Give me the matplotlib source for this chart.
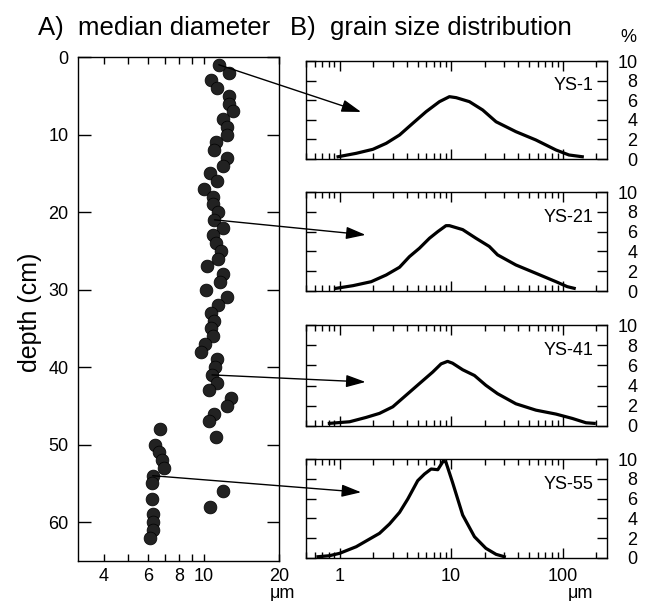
import numpy as np
import matplotlib.pyplot as plt
from matplotlib.ticker import FixedLocator, NullFormatter

plt.rcParams['font.family'] = ['Liberation Sans', 'DejaVu Sans']

# A) median diameter (um) vs depth (cm)
depth_cm = list(range(1, 63))
median_um = [11.5, 12.6, 10.7, 11.35, 12.6, 12.6, 13.1, 12.0, 12.4, 12.4,
             11.2, 11.0, 12.4, 11.95, 10.6, 11.35, 10.0, 10.95, 10.9, 11.4,
             11.05, 12.0, 10.9, 11.2, 11.7, 11.4, 10.35, 12.0, 11.6, 10.25,
             12.4, 11.4, 10.7, 11.0, 10.7, 10.9, 10.1, 9.8, 11.35, 11.15,
             10.8, 11.35, 10.5, 12.9, 12.4, 11.05, 10.5, 6.7, 11.2, 6.4,
             6.65, 6.8, 6.97, 6.26, 6.23, 11.95, 6.2, 10.6, 6.3, 6.25,
             6.3, 6.1]

# B) grain size distributions
sample_names = ['YS-1', 'YS-21', 'YS-41', 'YS-55']
sample_depth = [1, 21, 41, 54]

size_ys1 = [0.97, 1.41, 1.99, 2.62, 3.45, 4.53, 5.97, 7.86, 9.66, 11.1,
            14.6, 19.2, 25.3, 38.1, 57.6, 87.2, 114, 150]
pct_ys1 = [0.23, 0.58, 0.99, 1.6, 2.45, 3.64, 4.83, 5.85, 6.36, 6.26,
           5.85, 5.0, 3.8, 2.79, 1.94, 0.92, 0.41, 0.23]

size_ys21 = [0.93, 1.32, 1.92, 2.62, 3.45, 4.23, 5.2, 6.4, 7.6, 9.0, 9.66,
             12.7, 16.7, 22.0, 26.1, 38.1, 57.6, 87.2, 110, 127]
pct_ys21 = [0.27, 0.54, 0.94, 1.62, 2.4, 3.47, 4.32, 5.33, 6.0, 6.6, 6.6,
            6.2, 5.33, 4.5, 3.65, 2.63, 1.79, 0.94, 0.44, 0.27]

size_ys41 = [0.81, 1.23, 1.73, 2.28, 3.0, 3.95, 5.2, 6.84, 8.13, 9.3, 10.3,
             12.7, 16.2, 20.5, 26.1, 38.1, 57.6, 87.2, 122, 162, 192]
pct_ys41 = [0.26, 0.42, 0.85, 1.25, 1.9, 3.05, 4.2, 5.34, 6.15, 6.4, 6.22,
            5.57, 5.0, 4.03, 3.2, 2.2, 1.57, 1.18, 0.75, 0.32, 0.26]

size_ys55 = [0.64, 0.81, 1.0, 1.19, 1.41, 1.86, 2.28, 2.8, 3.45, 4.09, 5.02,
             5.77, 6.62, 7.6, 8.55, 9.0, 10.3, 12.7, 16.2, 20.5, 25.3, 30]
pct_ys55 = [0.13, 0.23, 0.47, 0.81, 1.14, 1.92, 2.49, 3.43, 4.61, 5.96, 7.81,
            8.48, 8.99, 8.92, 9.83, 9.66, 7.64, 4.34, 2.15, 0.98, 0.37, 0.13]

sizes = [size_ys1, size_ys21, size_ys41, size_ys55]
pcts = [pct_ys1, pct_ys21, pct_ys41, pct_ys55]

W, H = 648, 601
TICK_FS = 13


def box(l, t, r, b):
    # pixel box -> figure fraction rect
    return [l / W, 1 - b / H, (r - l) / W, (b - t) / H]


fig = plt.figure(figsize=(6.48, 6.01), dpi=100)

# ---- left panel
ax_l = fig.add_axes(box(78, 57, 279, 561))
ax_l.scatter(median_um, depth_cm, s=85, c='#222222', edgecolors='black',
             linewidths=0.5, zorder=3)
ax_l.set_xscale('log')
ax_l.set_xlim(3.15, 20)
ax_l.set_ylim(65, 0)
ax_l.xaxis.set_major_locator(FixedLocator([4, 6, 8, 10, 20]))
ax_l.xaxis.set_minor_locator(FixedLocator([5, 7, 9]))
ax_l.xaxis.set_major_formatter(plt.FuncFormatter(lambda v, p: f'{v:g}'))
ax_l.xaxis.set_minor_formatter(NullFormatter())
ax_l.set_yticks([0, 10, 20, 30, 40, 50, 60])
ax_l.tick_params(axis='x', which='both', direction='in', top=True,
                 bottom=True, length=5, width=1, labelsize=TICK_FS, pad=5)
ax_l.tick_params(axis='y', which='both', direction='in', left=True,
                 right=True, length=9, width=1, labelsize=TICK_FS, pad=7)
for s in ax_l.spines.values():
    s.set_linewidth(1)

# ---- right panels
tops = [61, 192, 325, 459]
bots = [159, 291, 426, 558]
tip_x = [1.56, 1.71, 1.71, 1.56]
tip_y = [4.8, 5.67, 4.36, 6.64]
ax_r = []
for i in range(4):
    ax = fig.add_axes(box(306, tops[i], 607, bots[i]))
    ax.plot(sizes[i], pcts[i], color='black', lw=2.3, solid_joinstyle='round')
    ax.set_xscale('log')
    ax.set_xlim(0.5, 250)
    ax.set_ylim(0, 10)
    ax.xaxis.set_major_locator(FixedLocator([1, 10, 100]))
    minors = [m * 10.0 ** e for e in (-1, 0, 1, 2) for m in range(2, 10)]
    ax.xaxis.set_minor_locator(FixedLocator(minors))
    ax.xaxis.set_major_formatter(plt.FuncFormatter(lambda v, p: f'{v:g}'))
    ax.xaxis.set_minor_formatter(NullFormatter())
    ax.set_yticks([0, 2, 4, 6, 8, 10])
    ax.yaxis.tick_right()
    ax.tick_params(axis='y', which='both', direction='in', left=True,
                   right=True, labelleft=False, labelright=True, length=7,
                   width=1, labelsize=TICK_FS, pad=22)
    plt.setp(ax.get_yticklabels(), ha='right')
    ax.tick_params(axis='x', which='major', direction='in', top=True,
                   bottom=True, length=7, width=1, labelsize=TICK_FS, pad=7)
    ax.tick_params(axis='x', which='minor', direction='in', top=True,
                   bottom=True, length=4, width=1)
    if i < 3:
        ax.tick_params(axis='x', labelbottom=False)
    for s in ax.spines.values():
        s.set_linewidth(1)
    ax.text(0.955, 0.745, sample_names[i], transform=ax.transAxes,
            ha='right', va='center', fontsize=13)
    d = sample_depth[i]
    ax.annotate('', xy=(tip_x[i], tip_y[i]), xycoords='data',
                xytext=(median_um[depth_cm.index(d)], d),
                textcoords=ax_l.transData,
                arrowprops=dict(arrowstyle='-|>,head_length=0.85,head_width=0.27',
                                color='black', lw=1, shrinkA=0, shrinkB=0,
                                mutation_scale=14),
                annotation_clip=False)
    ax_r.append(ax)

# ---- texts
fig.text(38 / W, 1 - 28 / H, 'A)  median diameter', fontsize=18.5,
         ha='left', va='center')
fig.text(290 / W, 1 - 28 / H, 'B)  grain size distribution', fontsize=18.5,
         ha='left', va='center')
fig.text(30 / W, 1 - 312 / H, 'depth (cm)', fontsize=18, rotation=90,
         ha='center', va='center')
fig.text(282 / W, 1 - 594 / H, 'μm', fontsize=13, ha='center', va='center')
fig.text(580 / W, 1 - 594 / H, 'μm', fontsize=13, ha='center', va='center')
fig.text(628 / W, 1 - 37 / H, '%', fontsize=13, ha='center', va='center')

fig.savefig('out.png', dpi=100)
